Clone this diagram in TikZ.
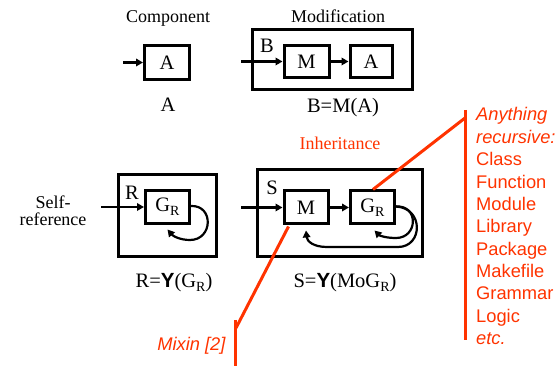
\documentclass[tikz,border=0pt]{standalone}
\usepackage{fontspec}
\setmainfont{Liberation Serif}
\setsansfont{Liberation Sans}
\usetikzlibrary{arrows.meta}
\definecolor{myred}{RGB}{255,51,0}
\newcommand\subR{\raisebox{-0.4ex}{\fontsize{14}{14}\selectfont R}}
\newcommand\bigY{\textbf{\sffamily Y}}
\begin{document}
\begin{tikzpicture}[x=1pt,y=-1pt,
  blk/.style={draw, line width=3pt, inner sep=0pt, font=\fontsize{20.5}{20.5}\selectfont},
  frame/.style={draw, line width=3pt, inner sep=0pt},
  flow/.style={line width=2.2pt, -{Triangle[length=7pt,width=7.5pt]}},
  txt/.style={inner sep=0pt, anchor=base, font=\fontsize{20.5}{20.5}\selectfont},
  title/.style={inner sep=0pt, anchor=base, font=\fontsize{18}{18}\selectfont},
  redline/.style={draw=myred, line width=3pt},
  redtxt/.style={inner sep=0pt, anchor=base west, text=myred, font=\sffamily\fontsize{18.3}{18.3}\selectfont},
]
\useasboundingbox (0,0) rectangle (558,366);

% titles
\node[title] (tcomp) at (168,23) {Component};
\node[title] (tmod) at (338,23) {Modification};
\node[title, text=myred] (tinh) at (340,150) {Inheritance};
\node[title, align=center, anchor=center] (tself) at (53,211) {Self-\\[-1pt]reference};

% outer frames
\node[frame, minimum width=160pt, minimum height=60pt] (fB) at (332.5,59.5) {};
\node[frame, minimum width=98pt, minimum height=82pt] (fR) at (167.5,215.5) {};
\node[frame, minimum width=165pt, minimum height=87pt] (fS) at (340,213) {};

% red annotation line end points
\coordinate (vtop) at (465,110);
\coordinate (vjoin) at (465,118);
\coordinate (vbot) at (465,340);
\coordinate (mtop) at (235,320);
\coordinate (mjoin) at (236,328);
\coordinate (mbot) at (235,366);

% inner blocks
\node[blk, minimum width=45pt, minimum height=34pt] (A1) at (167,62.5) {A};
\node[blk, minimum width=45pt, minimum height=32pt] (M1) at (306.5,61.5) {M};
\node[blk, minimum width=42pt, minimum height=32pt] (A2) at (371,61.5) {A};
\node[blk, minimum width=44pt, minimum height=33pt] (G1) at (167.5,207) {G\subR};
\node[blk, minimum width=44pt, minimum height=33pt] (M2) at (306,207.5) {M};
\node[blk, minimum width=44pt, minimum height=33pt] (G2) at (372.5,207.5) {G\subR};

% red lines
\draw[redline] ([xshift=0.5pt]G2.north) -- (vjoin);
\draw[redline] (vtop) -- (vbot);
\draw[redline] ([xshift=6pt,yshift=-1pt]M2.south west) -- (mjoin);
\draw[redline] (mtop) -- (mbot);

% frame labels
\node[txt] (lB) at (267,53) {B};
\node[txt] (lR) at (132,200) {R};
\node[txt] (lS) at (272,195) {S};

% captions
\node[txt] (cA) at (168,112) {A};
\node[txt] (cB) at (343,113) {B=M(A)};
\node[txt] (cR) at (174,288) {R=\bigY(G\subR)};
\node[txt] (cS) at (345,288) {S=\bigY(MoG\subR)};

% input arrows
\coordinate (inA) at (123,62.5);
\coordinate (inB) at (241,61.5);
\coordinate (inR) at (101,207);
\coordinate (inS) at (241,207.5);
\draw[flow] (inA) -- (A1.west);
\draw[flow] (inB) -- (M1.west);
\draw[flow] (M1.east) -- (A2.west);
\draw[flow] (inR) -- (G1.west);
\draw[flow] (inS) -- (M2.west);
\draw[flow] (M2.east) -- (G2.west);

% loops
\draw[flow] ([yshift=1pt]G1.east) .. controls (214,205) and (213,240) .. (190,240)
  .. controls (180,240) and (173,236) .. ([yshift=-4.5pt]G1.south);
\draw[flow] ([yshift=1pt]G2.east) .. controls (419,205) and (418,238) .. (396,238)
  .. controls (387,238) and (380,236) .. ([xshift=2pt,yshift=-5pt]G2.south);
\draw[flow] ([yshift=1pt]G2.east) .. controls (424,208) and (423,247) .. (398,247)
  -- (327,247) .. controls (313,247) and (307,241) .. ([yshift=-5pt]M2.south);

% red texts
\foreach \t [count=\i] in {\textit{Anything},\textit{recursive:},Class,Function,Module,Library,Package,Makefile,Grammar,Logic,\textit{etc.}}
  \node[redtxt] (r\i) at (476,{121+22.35*(\i-1)}) {\t};
\node[redtxt, anchor=base east] (mixin) at (226,351) {\textit{Mixin [2]}};
\end{tikzpicture}
\end{document}
